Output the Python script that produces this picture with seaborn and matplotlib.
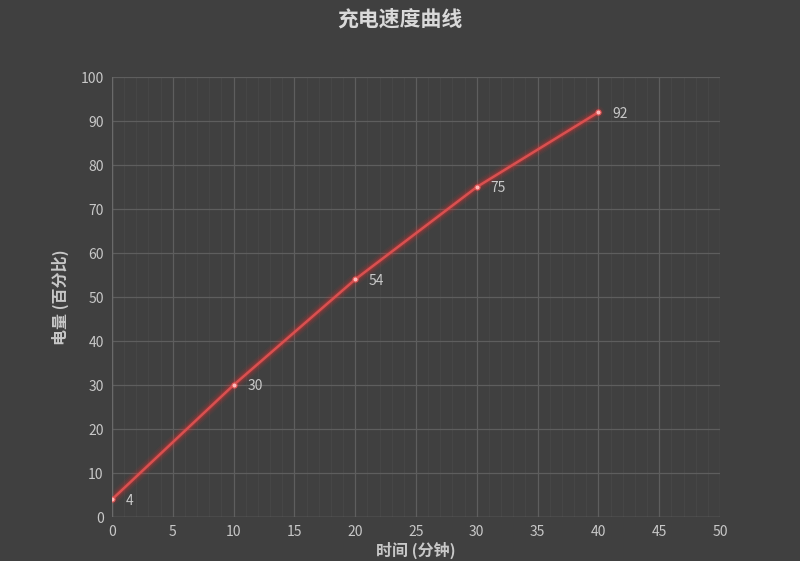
import numpy as np
import pandas as pd
import matplotlib
matplotlib.use('Agg')
import matplotlib.pyplot as plt
from matplotlib.ticker import MultipleLocator
import seaborn as sns

# 数据
minutes = [0, 10, 20, 30, 40]
battery = [4, 30, 54, 75, 92]

df = pd.DataFrame({'时间': minutes, '电量': battery})

BG = '#404040'
TXT = '#c8c8c8'
LINE = '#d95050'

sns.set_style('dark')
plt.rcParams['font.family'] = ['Noto Sans CJK SC', 'DejaVu Sans']

fig = plt.figure(figsize=(8, 5.61), dpi=100, facecolor=BG)
ax = fig.add_axes([0.14, 0.0784, 0.76, 0.7843])
ax.set_facecolor(BG)

# glow
for lw, a in [(9, 0.05), (7, 0.07), (5, 0.1), (3.5, 0.18)]:
    sns.lineplot(data=df, x='时间', y='电量', ax=ax, color='#ff3030',
                 linewidth=lw, alpha=a, solid_capstyle='round')
sns.lineplot(data=df, x='时间', y='电量', ax=ax, color=LINE, linewidth=1.8)
ax.scatter(minutes, battery, s=14, color='#ffb8b8', zorder=5, edgecolor=LINE, linewidth=0.8)

for xv, yv in zip(minutes, battery):
    ax.annotate(str(yv), (xv, yv), xytext=(10, -1), textcoords='offset points',
                ha='left', va='center', fontsize=10, color=TXT)

ax.set_xlim(0, 50)
ax.set_ylim(0, 100)
ax.xaxis.set_major_locator(MultipleLocator(5))
ax.xaxis.set_minor_locator(MultipleLocator(1))
ax.yaxis.set_major_locator(MultipleLocator(10))
ax.grid(which='major', color='#5e5e5e', linewidth=0.9)
ax.grid(which='minor', axis='x', color='#484848', linewidth=0.6)
for s in ax.spines.values():
    s.set_visible(False)
ax.axvline(0, color='#6a6a6a', linewidth=1)
ax.axhline(0, color='#6a6a6a', linewidth=1)
ax.tick_params(axis='both', which='both', length=0, colors=TXT, labelsize=10, pad=6)

ax.set_xlabel('时间 (分钟)', fontsize=11.5, fontweight='bold', color=TXT, labelpad=2)
ax.set_ylabel('电量 (百分比)', fontsize=11.5, fontweight='bold', color=TXT, labelpad=8)
fig.suptitle('充电速度曲线', fontsize=15, fontweight='bold', color='#d9d9d9', y=0.985)

plt.savefig('out.png', dpi=100, facecolor=BG)
plt.close()
